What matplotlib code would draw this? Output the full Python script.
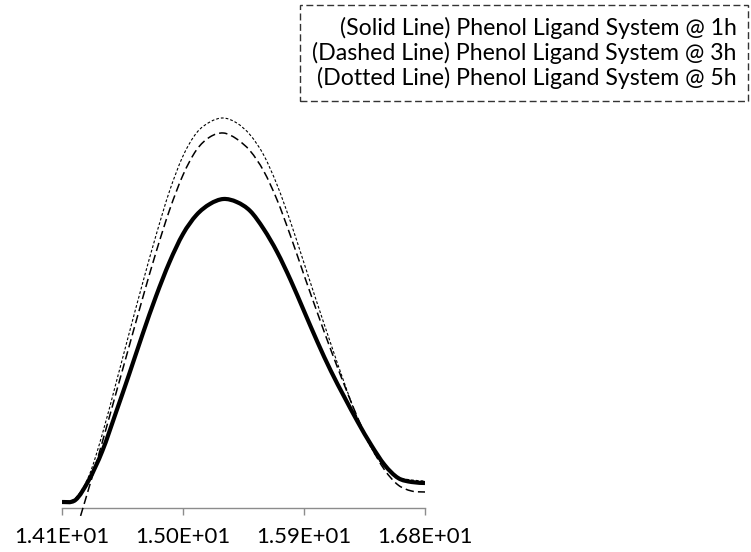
import matplotlib
matplotlib.use("Agg")
import matplotlib.pyplot as plt
from matplotlib.path import Path
from matplotlib.patches import PathPatch
from matplotlib.lines import Line2D

plt.rcParams['font.family'] = ['Lato', 'DejaVu Sans']

# === Données (unités arbitraires) ===
x_vals = [14.1, 14.2, 14.3, 14.4, 14.5, 14.6, 14.7, 14.8, 14.9, 15.0,
          15.1, 15.2, 15.3, 15.4, 15.5, 15.6, 15.7, 15.8, 15.9, 16.0,
          16.1, 16.2, 16.3, 16.4, 16.5, 16.6, 16.7, 16.8]

solid_1h = [6, 8, 28, 57, 95, 134, 174, 212, 246, 274,
            293, 304, 309, 306, 297, 279, 256, 228, 197, 166,
            137, 111, 86, 63, 43, 30, 26, 25]

dashed_3h = [-40, -22, 20, 66, 114, 162, 210, 256, 298, 333,
             358, 371, 375, 369, 357, 337, 308, 272, 233, 195,
             158, 123, 90, 61, 38, 23, 17, 16]

dotted_5h = [6, 10, 32, 74, 124, 175, 225, 273, 317, 352,
             375, 386, 390, 385, 373, 353, 323, 286, 245, 204,
             164, 125, 89, 60, 41, 31, 28, 27]

labels = ["(Solid Line) Phenol Ligand System @ 1h",
          "(Dashed Line) Phenol Ligand System @ 3h",
          "(Dotted Line) Phenol Ligand System @ 5h"]

tick_vals = [14.1, 15.0, 15.9, 16.8]
tick_labels = ["1.41E+01", "1.50E+01", "1.59E+01", "1.68E+01"]


def smooth_path(xs, ys):
    # courbe lissée façon Excel (Bézier passant par les points)
    pts = list(zip(xs, ys))
    n = len(pts)
    verts = [pts[0]]
    codes = [Path.MOVETO]
    for i in range(n - 1):
        p0 = pts[i - 1] if i > 0 else pts[i]
        p1 = pts[i]
        p2 = pts[i + 1]
        p3 = pts[i + 2] if i + 2 < n else pts[i + 1]
        c1 = (p1[0] + (p2[0] - p0[0]) / 6, p1[1] + (p2[1] - p0[1]) / 6)
        c2 = (p2[0] - (p3[0] - p1[0]) / 6, p2[1] - (p3[1] - p1[1]) / 6)
        verts += [c1, c2, p2]
        codes += [Path.CURVE4] * 3
    return Path(verts, codes)


# === Figure ===
fig = plt.figure(figsize=(7.51, 5.52), dpi=100)
ax = fig.add_axes([62 / 751, 36 / 552, 363 / 751, 408 / 552])

styles = [
    dict(linewidth=3.0, linestyle='-'),
    dict(linewidth=1.1, linestyle=(0, (5.5, 2.7))),
    dict(linewidth=0.8, linestyle=(0, (2.5, 1.8))),
]
series = [solid_1h, dashed_3h, dotted_5h]

handles = []
for ys, st, lab in zip(series, styles, labels):
    patch = PathPatch(smooth_path(x_vals, ys), fill=False, edgecolor='black',
                      capstyle='butt', joinstyle='round', **st)
    ax.add_patch(patch)
    handles.append(Line2D([], [], color='black', label=lab, **st))

ax.set_xlim(14.1, 16.8)
ax.set_ylim(-8, 400)

for side in ['left', 'right', 'top']:
    ax.spines[side].set_visible(False)
ax.spines['bottom'].set_position(('data', 0))
ax.spines['bottom'].set_color('#8c8c8c')
ax.spines['bottom'].set_linewidth(1.0)
ax.spines['bottom'].set_zorder(0.5)

ax.set_yticks([])
ax.set_xticks(tick_vals)
ax.set_xticklabels(tick_labels, fontsize=16)
ax.tick_params(axis='x', direction='out', length=5, width=1.0,
               color='#8c8c8c', pad=9)

leg = ax.legend(handles=handles, loc='upper right',
                bbox_to_anchor=(748 / 751, 1 - 5 / 552),
                bbox_transform=fig.transFigure, borderaxespad=0,
                handlelength=0, handletextpad=0, markerfirst=False,
                fancybox=False, fontsize=16.7, labelspacing=0.14,
                borderpad=0.5, frameon=True)
for h in leg.legend_handles:
    h.set_visible(False)
frame = leg.get_frame()
frame.set_edgecolor('black')
frame.set_linestyle((0, (5, 2.5)))
frame.set_linewidth(1.0)

fig.savefig("out.png", dpi=100)
